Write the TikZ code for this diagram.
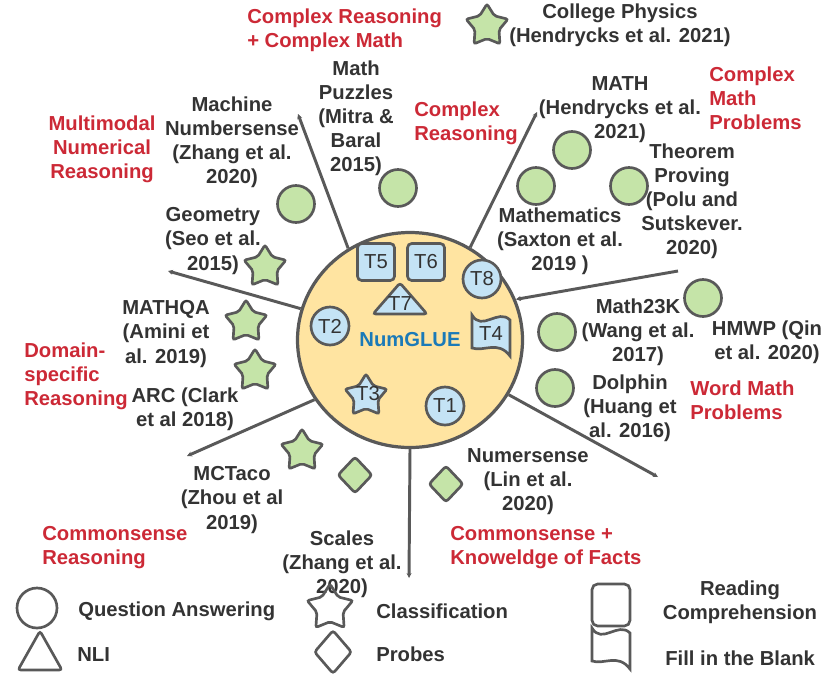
\documentclass[tikz,border=0pt]{standalone}
\usepackage{fontspec}
\setmainfont{Liberation Sans}
\usepackage{xcolor}
\usetikzlibrary{shapes.geometric,arrows.meta}

\definecolor{hubyellow}{HTML}{FFE4A1}
\definecolor{leafgreen}{HTML}{C5E4A8}
\definecolor{skyblue}{HTML}{C4E3F5}
\definecolor{edgegray}{HTML}{595959}
\definecolor{txtgray}{HTML}{333333}
\definecolor{catred}{HTML}{CC2936}
\definecolor{gluesblue}{HTML}{1B7AB8}

\newcommand{\boldtxt}{\fontsize{14.4}{17.1}\selectfont\bfseries}
\newcommand{\plaintxt}{\fontsize{14.4}{17.1}\selectfont}

\tikzset{
  blankflag/.pic={
    \draw[pic actions] (-19,-20) .. controls (-9,-3) and (7,-27) .. (19,-15)
      -- (19,21) .. controls (7,5) and (-7,17) .. (-19,13) -- cycle;
  }
}

\begin{document}
\begin{tikzpicture}[x=0.25mm, y=-0.25mm,
  shapeline/.style={draw=edgegray, line width=1.9pt},
  hub/.style={ellipse, draw=edgegray, line width=2.3pt, fill=hubyellow, minimum width=56.25mm, minimum height=53.75mm, inner sep=0pt, font=\boldtxt, text=gluesblue},
  qa/.style={shapeline, circle, fill=leafgreen, minimum size=9.25mm, inner sep=0pt},
  cls/.style={shapeline, star, star points=5, star point ratio=1.75, rounded corners=1.5pt, fill=leafgreen, minimum size=11mm, inner sep=0pt},
  probe/.style={shapeline, diamond, rounded corners=2pt, fill=leafgreen, minimum width=8.75mm, minimum height=9.25mm, inner sep=0pt},
  taskqa/.style={shapeline, circle, fill=skyblue, minimum size=9.5mm, inner sep=0pt, font=\plaintxt, text=txtgray},
  taskbox/.style={shapeline, rectangle, rounded corners=3pt, fill=skyblue, minimum size=9.25mm, inner sep=0pt, font=\plaintxt, text=txtgray},
  taskcls/.style={shapeline, star, star points=5, star point ratio=1.75, rounded corners=1.5pt, fill=skyblue, minimum size=11mm, inner sep=0pt},
  taskfill/.style={shapeline, fill=skyblue},
  tasktxt/.style={font=\plaintxt, text=txtgray, inner sep=0pt},
  lbl/.style={font=\boldtxt, text=txtgray, align=center, inner sep=0pt},
  field/.style={font=\boldtxt, text=catred, align=left, inner sep=0pt, anchor=west},
  keytxt/.style={font=\boldtxt, text=txtgray, inner sep=0pt, anchor=west},
  link/.style={draw=edgegray, line width=2.1pt, -{Stealth[length=3.5pt,width=3.5pt]}}
]
\useasboundingbox (0,0) rectangle (825,673);

% NumGLUE hub with its tasks
\node[hub] (hub) at (410,340) {NumGLUE};
\node[taskbox] (t5) at (376,262) {T5};
\node[taskbox] (t6) at (426,262) {T6};
\node[taskqa] (t8) at (482,279) {T8};
\node[taskqa] (t2) at (330,326) {T2};
\node[taskqa] (t1) at (445,406) {T1};
\node[taskcls] (t3) at (366,396) {};
\node[tasktxt] (t3txt) at (368,394) {T3};
\draw[taskfill, rounded corners=2pt] (373,314) -- (400,283) -- (427,314) -- cycle;
\node[tasktxt] (t7) at (400,304) {T7};
\pic[taskfill] at (491,335) {blankflag};
\node[tasktxt] (t4) at (491,334) {T4};

% Spokes
\coordinate (e1) at (298,114);
\coordinate (e2) at (537,112);
\coordinate (e3) at (678,271);
\coordinate (e4) at (658,477);
\coordinate (e5) at (409,578);
\coordinate (e6) at (187,456);
\coordinate (e7) at (168,271);
\draw[link] (hub.124) -- (e1);
\draw[link] (hub.57) -- (e2);
\draw[link] (e3) -- (hub.21);
\draw[link] (hub.-29) -- (e4);
\draw[link] (hub.-90) -- (e5);
\draw[link] (hub.212) -- (e6);
\draw[link] (hub.164) -- (e7);

% Datasets
\node[cls] (phy) at (487,26) {};
\node[lbl] (phytxt) at (620,25) {College Physics\\(Hendrycks et al. 2021)};
\node[qa] (puz) at (398,188) {};
\node[lbl] (puztxt) at (356,118) {Math\\Puzzles\\(Mitra \&\\Baral\\2015)};
\node[qa] (mns) at (296,204) {};
\node[lbl] (mnstxt) at (232,142) {Machine\\Numbersense\\(Zhang et al.\\2020)};
\node[qa] (mth) at (572,150) {};
\node[lbl] (mthtxt) at (620,110) {MATH\\(Hendrycks et al.\\2021)};
\node[qa] (sax) at (536,186) {};
\node[lbl] (saxtxt) at (560,241) {Mathematics\\(Saxton et al.\\2019 )};
\node[qa] (thm) at (629,186) {};
\node[lbl] (thmtxt) at (692,201) {Theorem\\Proving\\(Polu and\\Sutskever.\\2020)};
\node[cls] (geo) at (265,267) {};
\node[lbl] (geotxt) at (213,241) {Geometry\\(Seo et al.\\2015)};
\node[cls] (mqa) at (246,322) {};
\node[lbl] (mqatxt) at (166,334) {MATHQA\\(Amini et\\al. 2019)};
\node[cls] (arc) at (255,371) {};
\node[lbl] (arctxt) at (185,409) {ARC (Clark\\et al 2018)};
\node[qa] (m23k) at (557,332) {};
\node[lbl] (m23ktxt) at (638,332) {Math23K\\(Wang et al.\\2017)};
\node[qa] (hmwp) at (703,298) {};
\node[lbl] (hmwptxt) at (767,342) {HMWP (Qin\\et al. 2020)};
\node[qa] (dol) at (555,388) {};
\node[lbl] (doltxt) at (630,408) {Dolphin\\(Huang et\\al. 2016)};
\node[probe] (nms) at (446,484) {};
\node[lbl] (nmstxt) at (528,482) {Numersense\\(Lin et al.\\2020)};
\node[probe] (scl) at (355,475) {};
\node[lbl] (scltxt) at (342,564) {Scales\\(Zhang et al.\\2020)};
\node[cls] (mct) at (302,451) {};
\node[lbl] (mcttxt) at (232,500) {MCTaco\\(Zhou et al\\2019)};

% Reasoning fields
\node[field] (f1) at (247,30) {Complex Reasoning\\+ Complex Math};
\node[field, align=center, anchor=center] (f2) at (102,149) {Multimodal\\Numerical\\Reasoning};
\node[field] (f3) at (414,123) {Complex\\Reasoning};
\node[field] (f4) at (709,98) {Complex\\Math\\Problems};
\node[field] (f5) at (24,376) {Domain-\\specific\\Reasoning};
\node[field] (f6) at (690,400) {Word Math\\Problems};
\node[field] (f7) at (42,548) {Commonsense\\Reasoning};
\node[field] (f8) at (450,548) {Commonsense +\\Knoweldge of Facts};

% Legend
\node[shapeline, circle, minimum size=10mm, inner sep=0pt] (kqa) at (37,608) {};
\node[keytxt] (kqatxt) at (78,611) {Question Answering};
\draw[shapeline, rounded corners=2pt] (18,670) -- (40,631) -- (62,670) -- cycle;
\coordinate (knli) at (40,656);
\node[keytxt] (knlitxt) at (77,655) {NLI};
\node[shapeline, star, star points=5, star point ratio=1.75, rounded corners=1.5pt, minimum size=12mm, inner sep=0pt] (kcls) at (330,608) {};
\node[keytxt] (kclstxt) at (376,611) {Classification};
\node[shapeline, diamond, rounded corners=2pt, minimum width=9.5mm, minimum height=11mm, inner sep=0pt] (kprb) at (333,652) {};
\node[keytxt] (kprbtxt) at (376,654) {Probes};
\node[shapeline, rectangle, rounded corners=4pt, minimum width=9.5mm, minimum height=10.5mm, inner sep=0pt] (krc) at (611,605) {};
\node[lbl] (krctxt) at (740,602) {Reading\\Comprehension};
\pic[shapeline] at (611,648) {blankflag};
\node[keytxt] (kfibtxt) at (665,658) {Fill in the Blank};
\end{tikzpicture}
\end{document}
